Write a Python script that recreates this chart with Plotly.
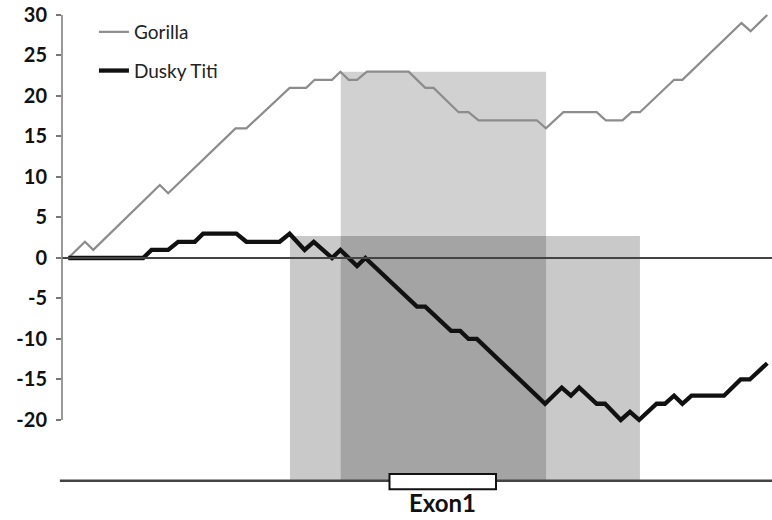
import plotly.graph_objects as go

# ---- data ----
gorilla_pos = [0, 2, 3, 11, 12, 20.1, 21.4, 26.6, 28.6, 29.6, 31.7, 32.7, 33.7, 34.7, 35.9,
               40.9, 42.9, 43.9, 46.9, 48.1, 49.3, 56.3, 57.4, 59.5, 63.5, 64.6, 66.6, 67.7,
               68.7, 72.8, 73.8, 80.9, 82, 84]
gorilla_val = [0, 2, 1, 9, 8, 16, 16, 21, 21, 22, 22, 23, 22, 22, 23,
               23, 21, 21, 18, 18, 17, 17, 16, 18, 18, 17, 17, 18,
               18, 22, 22, 29, 28, 30]

titi_pos = [0, 9, 10, 12, 13.2, 15.2, 16.2, 20.2, 21.4, 25.4, 26.6, 28.4, 29.5, 31.7, 32.7,
            34.7, 35.7, 41.9, 42.9, 46.0, 47.1, 48.1, 49.1, 57.3, 59.3, 60.4, 61.4, 63.5,
            64.5, 66.4, 67.5, 68.6, 70.7, 71.7, 72.8, 73.8, 74.9, 78.8, 80.8, 81.9, 84]
titi_val = [0, 0, 1, 1, 2, 2, 3, 3, 2, 2, 3, 1, 2, 0, 1,
            -1, 0, -6, -6, -9, -9, -10, -10, -18, -16, -17, -16, -18,
            -18, -20, -19, -20, -18, -18, -17, -18, -17, -17, -15, -15, -13]

series_names = ["Gorilla", "Dusky Titi"]

# shaded regions: [start, end, top value]
region_start = [32.74, 26.64]
region_end = [57.42, 68.7]
region_top = [23, 2.7]
region_bottom = -27.5

exon_start = 38.6
exon_end = 51.4
exon_label = "Exon1"

y_ticks = [-20, -15, -10, -5, 0, 5, 10, 15, 20, 25, 30]

FONT = "Lato"

fig = go.Figure()
fig.add_trace(go.Scatter(x=gorilla_pos, y=gorilla_val, mode="lines", name=series_names[0],
                         line=dict(color="#8c8c8c", width=2.2), legendgroup="g1"))
fig.add_trace(go.Scatter(x=titi_pos, y=titi_val, mode="lines", name=series_names[1],
                         line=dict(color="#111111", width=4.3), legendgroup="g2"))

region_fills = ["rgba(0,0,0,0.18)", "rgba(0,0,0,0.21)"]
for s, e, top, c in zip(region_start, region_end, region_top, region_fills):
    fig.add_shape(type="rect", x0=s, x1=e, y0=region_bottom, y1=top, xref="x", yref="y",
                  fillcolor=c, line=dict(width=0), layer="below")

# zero line
fig.add_shape(type="line", xref="paper", yref="y", x0=0, x1=1, y0=0, y1=0,
              line=dict(color="#444444", width=2))
# y axis line
fig.add_shape(type="line", xref="paper", yref="y", x0=0, x1=0, y0=y_ticks[0], y1=y_ticks[-1],
              line=dict(color="#777777", width=1.5))
# bottom line
fig.add_shape(type="line", xref="paper", yref="y", x0=-0.003, x1=1, y0=region_bottom, y1=region_bottom,
              line=dict(color="#444444", width=2.5))
# exon box
fig.add_shape(type="rect", xref="x", yref="y", x0=exon_start, x1=exon_end, y0=-28.56, y1=-26.67,
              fillcolor="white", line=dict(color="#111111", width=2), layer="above")
fig.add_annotation(x=(exon_start + exon_end) / 2, y=-30.25, xref="x", yref="y", text=exon_label,
                   showarrow=False, borderpad=0,
                   font=dict(family=FONT, size=24, color="#111111", weight="bold"))

fig.update_layout(
    template="none",
    width=772, height=520,
    margin=dict(l=62, r=0, t=0, b=0),
    paper_bgcolor="white", plot_bgcolor="white",
    showlegend=True,
    legend=dict(x=0.045, y=0.975, xanchor="left", yanchor="top", bgcolor="rgba(0,0,0,0)",
                font=dict(family=FONT, size=19, color="#222222"), traceorder="grouped",
                tracegroupgap=11, itemwidth=30),
    xaxis=dict(range=[-0.757, 84.57], showgrid=False, zeroline=False, showline=False,
               showticklabels=False, ticks="", automargin=False),
    yaxis=dict(range=[-32.35, 31.85], showgrid=False, zeroline=False, showline=False,
               tickvals=y_ticks, ticktext=[str(v) for v in y_ticks], ticks="outside", ticklen=5,
               tickwidth=1.5, tickcolor="#777777", ticklabelstandoff=5,
               tickfont=dict(family=FONT, size=20, color="#111111", weight="bold"),
               automargin=False),
)

fig.write_html("out.html", config={"displayModeBar": False},
               post_script="document.body.style.margin='0';document.body.style.padding='0';")
